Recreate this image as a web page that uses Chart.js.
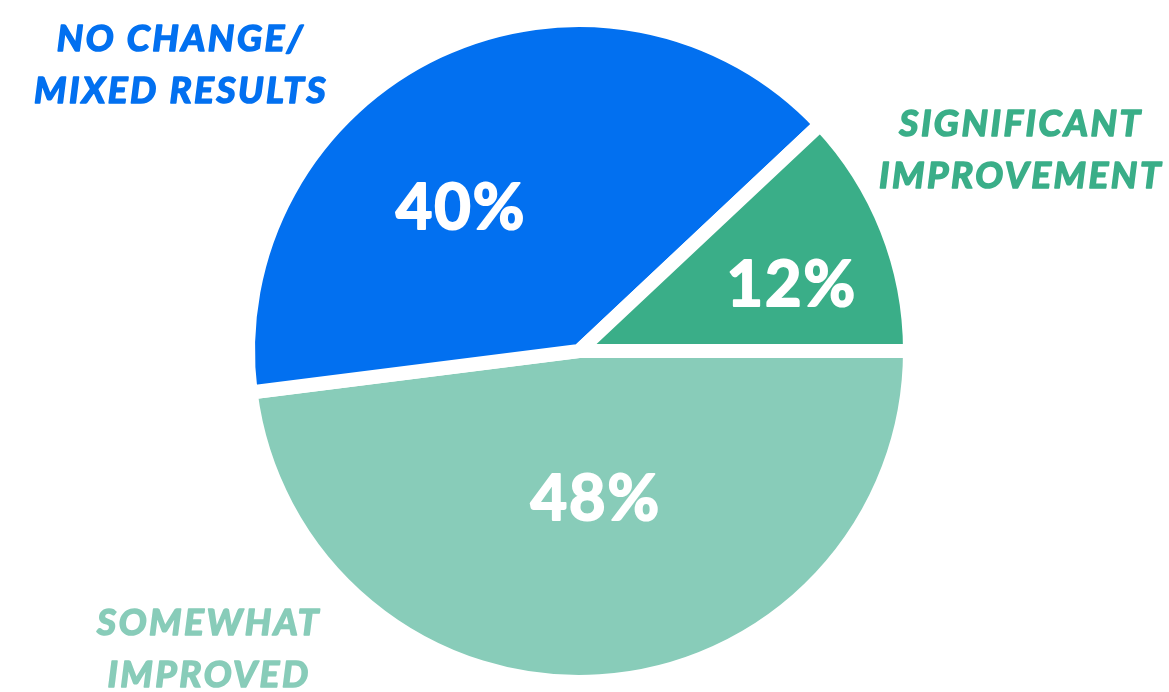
<!DOCTYPE html>
<html>
<head>
<meta charset="utf-8">
<script src="https://cdn.jsdelivr.net/npm/chart.js@4.4.1/dist/chart.umd.min.js"></script>
<style>
  html, body { margin: 0; padding: 0; background: #fff; }
  #wrap { width: 1169px; height: 692px; position: relative; }
</style>
</head>
<body>
<div id="wrap"><canvas id="pieChart"></canvas></div>
<script>
var categories = ['Somewhat improved', 'No change / mixed results', 'Significant improvement'];
var shares = [48, 40, 12];
var sliceColors = ['#88CCB9', '#0270F0', '#3AAE88'];
var calloutLines = [['SOMEWHAT', 'IMPROVED'], ['NO CHANGE/', 'MIXED RESULTS'], ['SIGNIFICANT', 'IMPROVEMENT']];

// where each percentage sits inside its slice: [fraction along the arc, fraction of radius]
var valueAnchors = [[0.483, 0.444], [0.403, 0.564], [0.59, 0.675]];
// centre of the first line of each outside callout
var calloutSpots = [[209, 622], [181, 38], [1021, 123]];

var FONT = '"Lato", "Open Sans", sans-serif';

// fill plus a same-colour stroke, so the bold face reads heavier
function heavyText(ctx, text, x, y, weight) {
    ctx.lineWidth = weight;
    ctx.lineJoin = 'round';
    ctx.strokeText(text, x, y);
    ctx.fillText(text, x, y);
}

var sliceText = {
    id: 'sliceText',
    afterDatasetsDraw: function (chart) {
        var ctx = chart.ctx;
        var arcs = chart.getDatasetMeta(0).data;
        ctx.save();
        ctx.textAlign = 'center';
        ctx.textBaseline = 'alphabetic';

        // percentages inside the slices
        ctx.fillStyle = '#fff';
        ctx.strokeStyle = '#fff';
        ctx.font = 'bold 63px ' + FONT;
        if ('letterSpacing' in ctx) ctx.letterSpacing = '2px';
        arcs.forEach(function (arc, i) {
            var p = arc.getProps(['x', 'y', 'startAngle', 'endAngle', 'outerRadius'], true);
            var a = p.startAngle + valueAnchors[i][0] * (p.endAngle - p.startAngle);
            var r = valueAnchors[i][1] * p.outerRadius;
            var cx = p.x + Math.cos(a) * r;
            var cy = p.y + Math.sin(a) * r;
            heavyText(ctx, shares[i] + '%', cx, cy + 0.36 * 63, 2);
        });

        // category callouts around the pie
        ctx.font = 'italic bold 37px ' + FONT;
        if ('letterSpacing' in ctx) ctx.letterSpacing = '2.5px';
        calloutLines.forEach(function (lines, i) {
            ctx.fillStyle = sliceColors[i];
            ctx.strokeStyle = sliceColors[i];
            lines.forEach(function (line, j) {
                heavyText(ctx, line, calloutSpots[i][0], calloutSpots[i][1] + j * 52 + 0.36 * 37, 1.6);
            });
        });
        ctx.restore();
    }
};

var pieCanvas = document.getElementById('pieChart').getContext('2d');
var pieChart = new Chart(pieCanvas, {
    type: 'pie',
    data: {
        labels: categories,
        datasets: [{
            data: shares,
            backgroundColor: sliceColors,
            borderColor: '#ffffff',
            borderWidth: 14,
            hoverOffset: 0,
            radius: 331,
        }],
    },
    options: {
        responsive: true,
        maintainAspectRatio: false,
        animation: false,
        rotation: 90,
        layout: { padding: { left: 0, right: 11, top: 10, bottom: 0 } },
        plugins: {
            legend: { display: false },
            tooltip: { enabled: false },
        },
        events: [],
    },
    plugins: [sliceText],
});
</script>
</body>
</html>
